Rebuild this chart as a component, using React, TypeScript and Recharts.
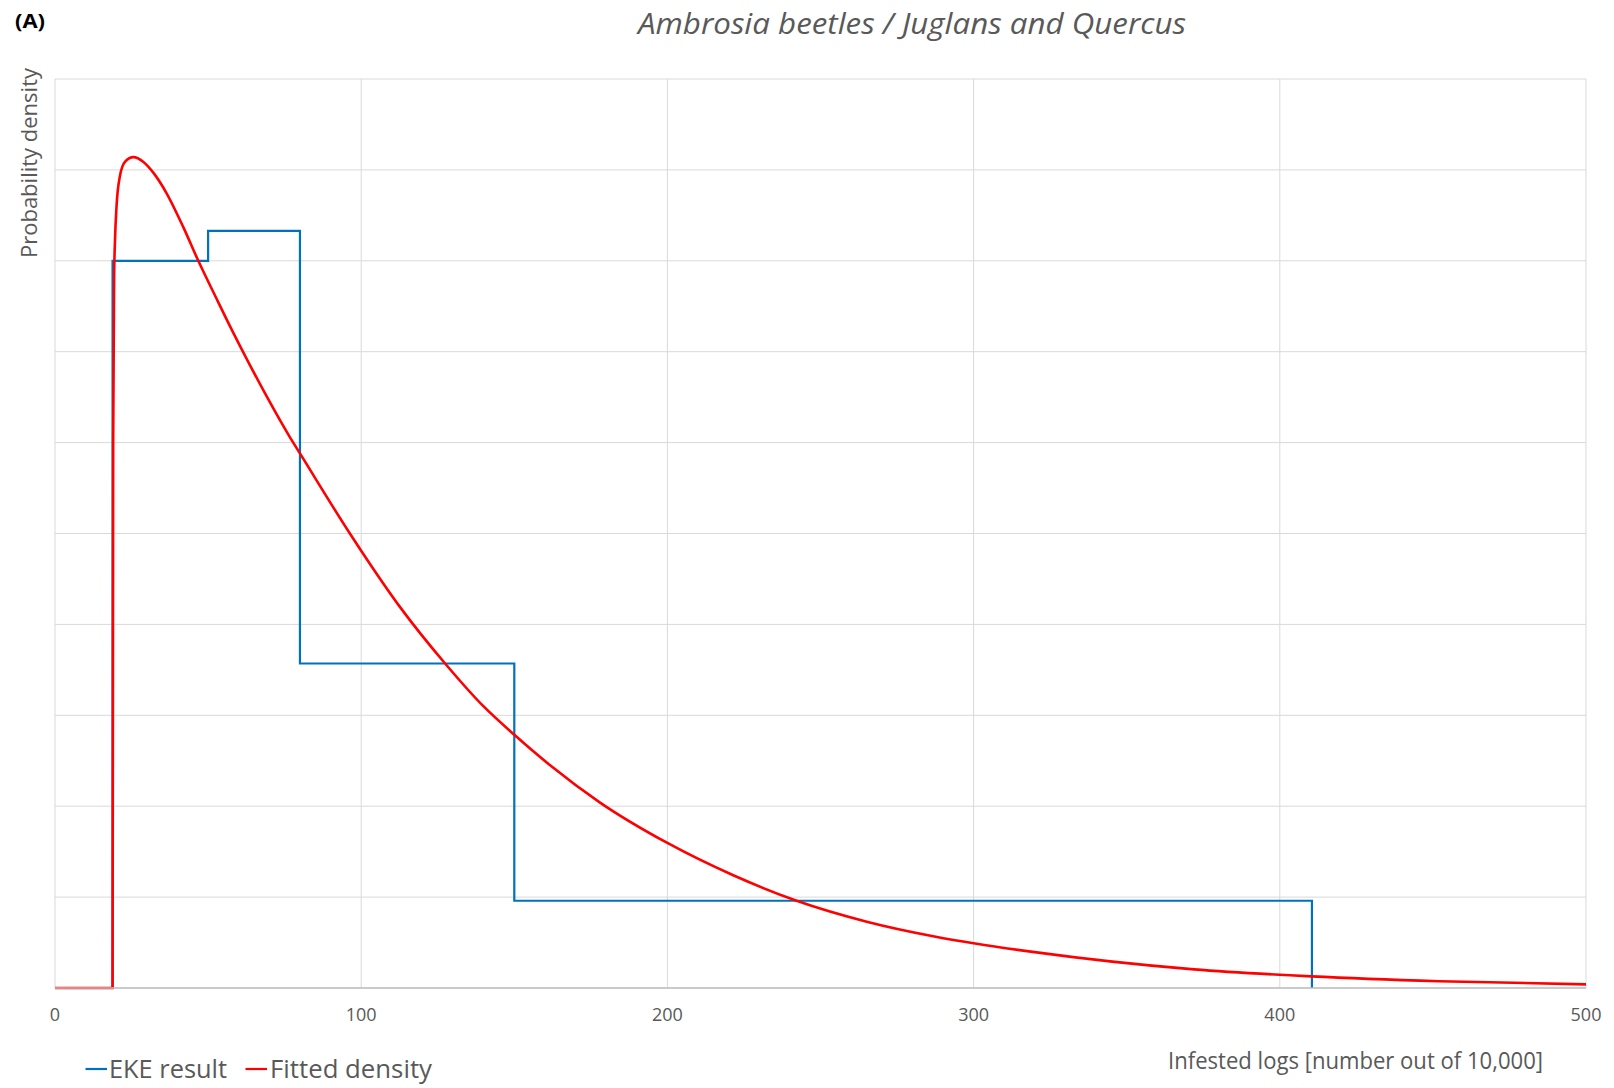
import React from "react";
import { LineChart, Line, XAxis, YAxis, CartesianGrid } from "recharts";

// EKE result (step histogram of quartile intervals), density values
const ekeX = [18.8, 18.8, 50, 50, 80, 80, 150, 150, 410.5, 410.5];
const ekeY = [0, 0.008, 0.008, 0.00833, 0.00833, 0.00357, 0.00357, 0.00096, 0.00096, 0];

// Fitted density
const fitX = [0, 18.8, 19.0, 19.3, 19.6, 20.1, 21.2, 22.9, 25.6, 28.8, 32.1, 36.5, 41.9, 46.8, 52.8, 58.2, 63.7, 69.1, 76.7, 80.2, 96.3, 100.2, 112.7, 127.4, 139.9, 150.2, 161.7, 178, 200.3, 221.5, 242.2, 265.1, 286.8, 300.5, 318.7, 345.3, 372, 410.3, 452, 500];
const fitY = [0, 0, 0.0060, 0.0078, 0.00823, 0.0086, 0.00893, 0.00909, 0.00914, 0.00909, 0.00897, 0.00874, 0.00837, 0.0080, 0.00758, 0.00721, 0.00685, 0.00651, 0.00606, 0.00587, 0.005, 0.0048, 0.00419, 0.00357, 0.0031, 0.00278, 0.00245, 0.00204, 0.00159, 0.00124, 0.00096, 0.00073, 0.00057, 0.00049, 0.0004, 0.00029, 0.000205, 0.000128, 0.000075, 0.00004];

const xTicks = [0, 100, 200, 300, 400, 500];
const yTicks = [0, 0.001, 0.002, 0.003, 0.004, 0.005, 0.006, 0.007, 0.008, 0.009, 0.01];

const seriesNames = ["EKE result", "Fitted density"];
const seriesColors = ["#0070C0", "#FF0000"];

const title = "Ambrosia beetles / Juglans and Quercus";
const panelLabel = "(A)";
const yLabel = "Probability density";
const xLabel = "Infested logs [number out of 10,000]";

const ekeData = ekeX.map((x, i) => ({ x, y: ekeY[i] }));
const fitData = fitX.map((x, i) => ({ x, y: fitY[i] }));

const FONT = "'Open Sans', 'Noto Sans', sans-serif";
const TXT = "#595959";

const NoTick = () => <g />;

export default function App() {
  return (
    <div style={{ position: "absolute", left: 0, top: 0, width: 1614, height: 1088, background: "#fff" }}>
      <LineChart
        width={1614}
        height={1088}
        margin={{ top: 79, right: 28, left: 55, bottom: 70 }}
      >
        <CartesianGrid stroke="#D9D9D9" strokeWidth={1} horizontal vertical />
        <XAxis
          type="number"
          dataKey="x"
          domain={[0, 500]}
          ticks={xTicks}
          height={30}
          axisLine={{ stroke: "#BFBFBF", strokeWidth: 1.5 }}
          tickLine={false}
          tickMargin={14}
          tick={{ fill: TXT, fontSize: 18, fontFamily: FONT }}
        />
        <YAxis
          type="number"
          dataKey="y"
          domain={[0, 0.01]}
          ticks={yTicks}
          interval={0}
          width={0}
          tick={NoTick}
          axisLine={false}
          tickLine={false}
        />
        <Line
          data={ekeData}
          dataKey="y"
          name={seriesNames[0]}
          type="linear"
          stroke={seriesColors[0]}
          strokeWidth={2.2}
          dot={false}
          activeDot={false}
          isAnimationActive={false}
        />
        <Line
          data={fitData}
          dataKey="y"
          name={seriesNames[1]}
          type="monotone"
          stroke={seriesColors[1]}
          strokeWidth={2.6}
          dot={false}
          activeDot={false}
          isAnimationActive={false}
        />
      </LineChart>
      <svg
        width={1614}
        height={1088}
        style={{ position: "absolute", left: 0, top: 0, pointerEvents: "none" }}
      >
        <text x={15} y={28} fontFamily={FONT} fontWeight="bold" fontSize={19} fill="#000" textLength={30} lengthAdjust="spacingAndGlyphs">
          {panelLabel}
        </text>
        <text x={912} y={34} textAnchor="middle" fontFamily={FONT} fontStyle="italic" fontSize={30} fill={TXT} textLength={548} lengthAdjust="spacingAndGlyphs">
          {title}
        </text>
        <text transform="translate(36.5,163) rotate(-90)" textAnchor="middle" fontFamily={FONT} fontSize={22} fill={TXT} textLength={190} lengthAdjust="spacingAndGlyphs">
          {yLabel}
        </text>
        <text x={1168} y={1069} fontFamily={FONT} fontSize={23} fill={TXT} textLength={375} lengthAdjust="spacingAndGlyphs">
          {xLabel}
        </text>
        <line x1={85.5} x2={107} y1={1069} y2={1069} stroke={seriesColors[0]} strokeWidth={2.2} />
        <text x={109} y={1078} fontFamily={FONT} fontSize={25} fill={TXT} textLength={118} lengthAdjust="spacingAndGlyphs">
          {seriesNames[0]}
        </text>
        <line x1={245.5} x2={267} y1={1069} y2={1069} stroke={seriesColors[1]} strokeWidth={2.2} />
        <text x={270} y={1078} fontFamily={FONT} fontSize={25} fill={TXT} textLength={162} lengthAdjust="spacingAndGlyphs">
          {seriesNames[1]}
        </text>
      </svg>
    </div>
  );
}
